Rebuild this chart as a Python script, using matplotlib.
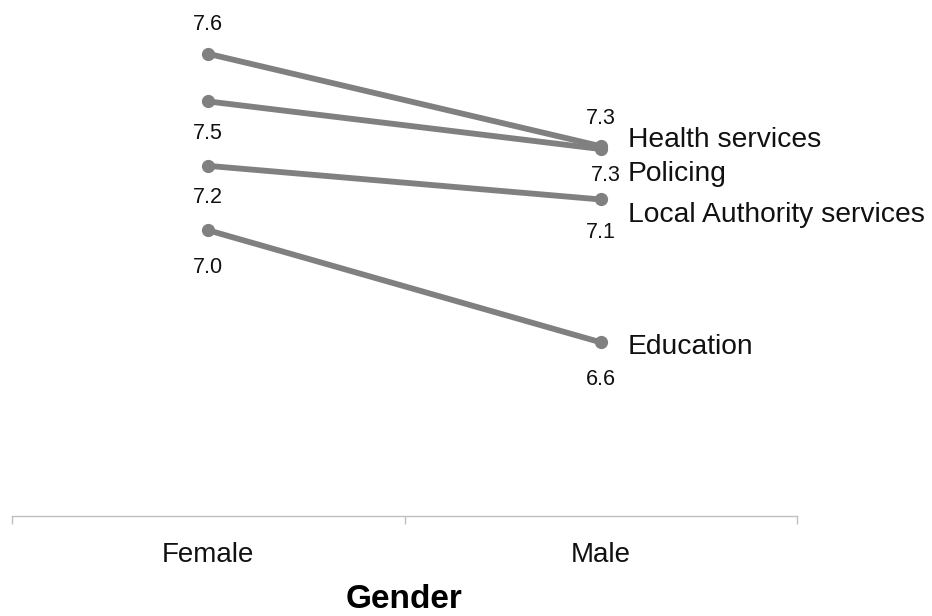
import numpy as np
import matplotlib
matplotlib.use("Agg")
import matplotlib.pyplot as plt

plt.rcParams['font.family'] = ['Liberation Sans', 'DejaVu Sans']

# satisfaction scores by gender
genders = ["Female", "Male"]
services = ["Health services", "Policing", "Local Authority services", "Education"]
female = [7.63, 7.46, 7.23, 7.00]
male = [7.30, 7.29, 7.11, 6.60]

# where each value label sits relative to its point (pixels)
female_lbl = [(0, 29), (0, -32), (0, -32), (0, -37)]
male_lbl = [(0, 28), (5, -26), (0, -33), (0, -37)]
name_lbl = [(27, 6), (27, -25), (27, -16), (27, -5)]

grey = "#808080"

fig = plt.figure(figsize=(9.32, 6.16), dpi=100)
ax = fig.add_axes([12 / 932, 1 - 516 / 616, 785 / 932, 507 / 616])

x = np.arange(len(genders))
for i, name in enumerate(services):
    vals = [female[i], male[i]]
    ax.plot(x, vals, color=grey, lw=4.2, marker="o", ms=8.5,
            solid_capstyle="round", zorder=3)
    for xi, v, off in zip(x, vals, [female_lbl[i], male_lbl[i]]):
        ax.annotate(f"{v:.1f}", (xi, v), xytext=off, textcoords="offset pixels",
                    ha="center", va="center", fontsize=15.5, color="#111111")
    ax.annotate(name, (x[1], male[i]), xytext=name_lbl[i], textcoords="offset pixels",
                ha="left", va="center", fontsize=20.3, color="#111111",
                annotation_clip=False)

ax.set_xlim(-0.5, 1.5)
ax.set_ylim(5.98, 7.79)
ax.set_yticks([])
for s in ["top", "left", "right"]:
    ax.spines[s].set_visible(False)
ax.spines["bottom"].set_color("#bfbfbf")
ax.spines["bottom"].set_linewidth(1)

ax.set_xticks(x)
ax.set_xticklabels(genders, fontsize=20, color="#111111")
ax.tick_params(axis="x", which="major", length=0, pad=19)
ax.set_xticks([-0.5, 0.5, 1.5], minor=True)
ax.tick_params(axis="x", which="minor", length=6, color="#bfbfbf", width=1)
ax.set_xlabel("Gender", fontsize=24, fontweight="bold", labelpad=11)

fig.savefig("out.png", dpi=100)
